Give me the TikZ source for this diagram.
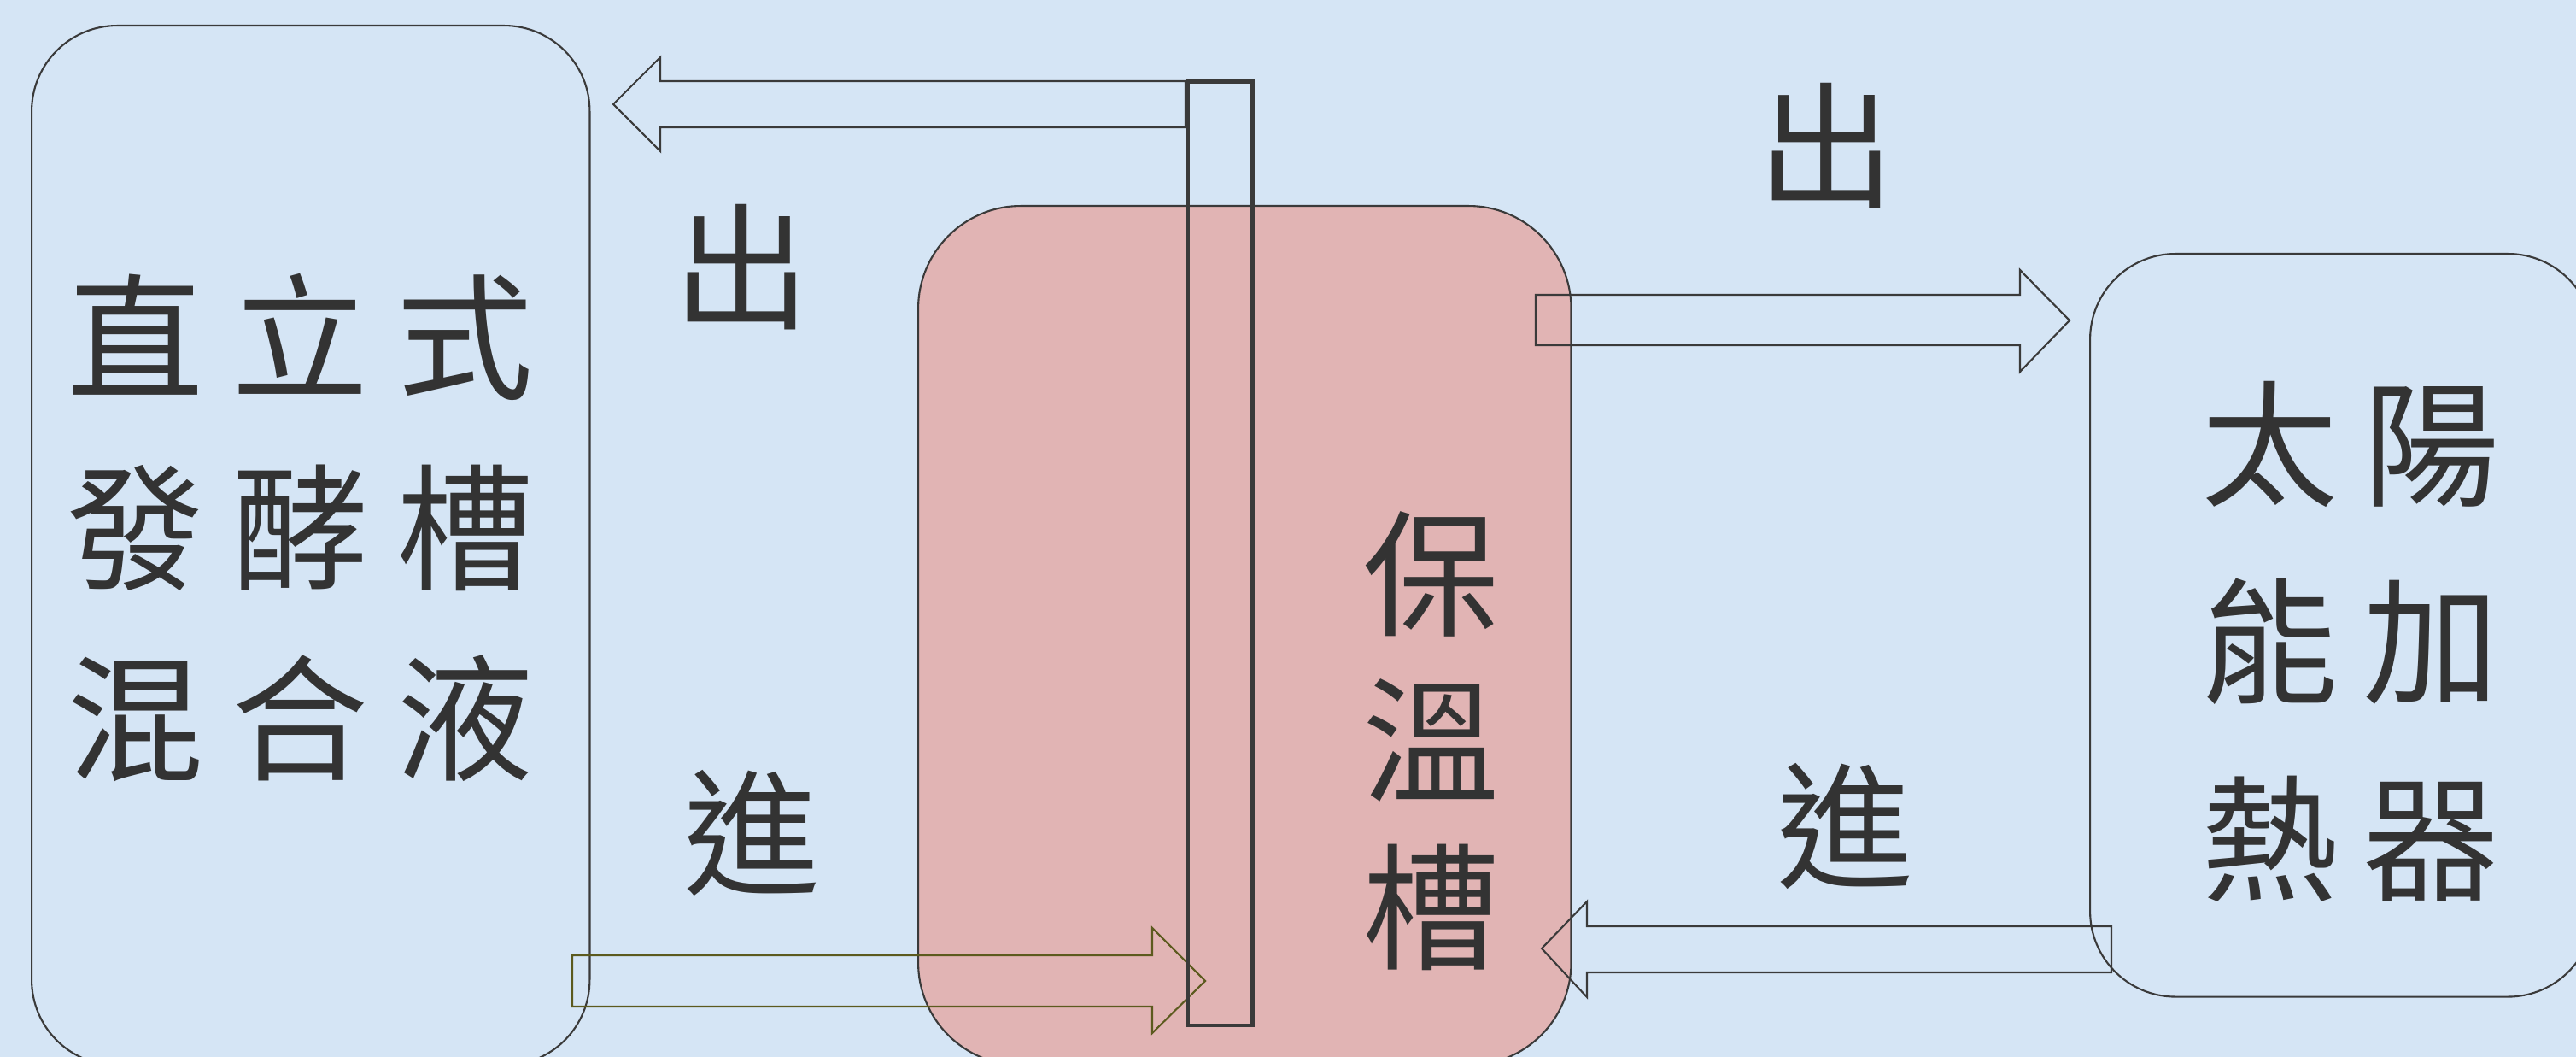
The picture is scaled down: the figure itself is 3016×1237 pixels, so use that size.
\documentclass[tikz,border=0pt]{standalone}
\usepackage{fontspec}
\newfontfamily\cjk{Noto Sans CJK TC}
\definecolor{bg}{HTML}{D5E5F5}
\definecolor{pinkfill}{HTML}{E1B4B4}
\definecolor{edge}{HTML}{3A3A3A}
\definecolor{olive}{HTML}{5C5A1E}
\definecolor{ink}{HTML}{333333}
\begin{document}
\begin{tikzpicture}[x=0.01cm,y=-0.01cm,
  box/.style={draw=edge, line width=0.6pt, inner sep=0pt, anchor=north west},
  pipe/.style={draw=edge, line width=1.3pt, inner sep=0pt, anchor=north west},
  blockarrow/.style={draw=edge, line width=0.6pt, line join=miter},
  bigtext/.style={text=ink, inner sep=0pt, align=center},
  label/.style={text=ink, inner sep=0pt, font=\cjk\fontsize{45.5pt}{55pt}\selectfont}
]
\useasboundingbox (0,0) rectangle (3016,1237);
\clip (0,0) rectangle (3016,1237);
\fill[bg] (0,0) rectangle (3016,1237);

% boxes
\node[box, rounded corners=1cm, minimum width=6.53cm, minimum height=12.16cm] (ferm) at (36,29) {};
\node[box, rounded corners=1.2cm, fill=pinkfill, minimum width=7.64cm, minimum height=10.05cm] (keep) at (1074,240) {};
\node[box, rounded corners=1cm, minimum width=5.89cm, minimum height=8.69cm] (heater) at (2446,296) {};

% arrows
\draw[blockarrow] (1388,95) -- (773,95) -- (773,67) -- (718,122) -- (773,177) -- (773,149) -- (1388,149) -- cycle;
\draw[blockarrow, draw=olive] (670,1118) -- (1349,1118) -- (1349,1086) -- (1411,1148) -- (1349,1209) -- (1349,1178) -- (670,1178) -- cycle;
\draw[blockarrow] (1798,345) -- (2365,345) -- (2365,316) -- (2423,375) -- (2365,435) -- (2365,404) -- (1798,404) -- cycle;
\draw[blockarrow] (2472,1084) -- (1858,1084) -- (1858,1055) -- (1805,1110) -- (1858,1167) -- (1858,1138) -- (2472,1138) -- cycle;

% pipe
\node[pipe, minimum width=0.76cm, minimum height=11.04cm] (pipe) at (1388,93) {};

% texts
\node[bigtext, font=\cjk\fontsize{45.5pt}{63.4pt}\selectfont] (fermtext) at (352,617)
  {直\hspace{0.33cm}立\hspace{0.33cm}式\\發\hspace{0.33cm}酵\hspace{0.33cm}槽\\混\hspace{0.33cm}合\hspace{0.33cm}液};
\node[bigtext, font=\cjk\fontsize{45.5pt}{55.5pt}\selectfont] (keeptext) at (1675,867)
  {保\\溫\\槽};
\node[bigtext, font=\cjk\fontsize{45.5pt}{65.7pt}\selectfont] (heatertext) at (2752,751)
  {太\hspace{0.29cm}陽\\能\hspace{0.29cm}加\\熱\hspace{0.29cm}器};

\node[label] (out1) at (868,313) {出};
\node[label] (in1) at (880,975) {進};
\node[label] (out2) at (2138,171) {出};
\node[label] (in2) at (2160,967) {進};
\end{tikzpicture}
\end{document}
